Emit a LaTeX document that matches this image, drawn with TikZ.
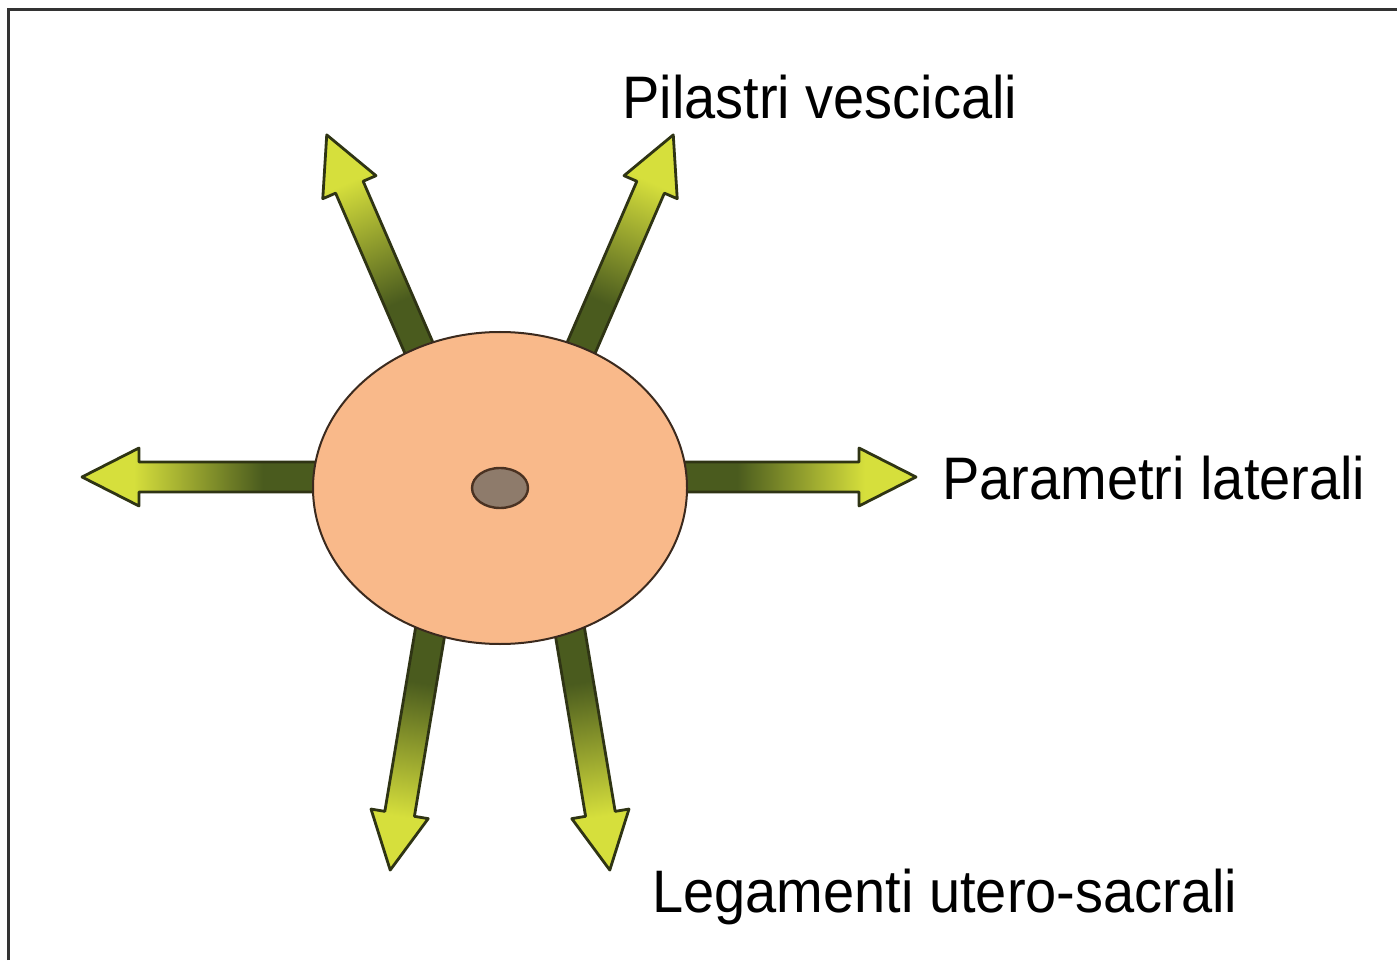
\documentclass[tikz,border=0pt]{standalone}
\usepackage{fontspec}
\setmainfont{Liberation Sans}
\usetikzlibrary{shapes.geometric}
\definecolor{adark}{HTML}{4A5B1E}
\definecolor{alight}{HTML}{D6DF3C}
\definecolor{aline}{HTML}{2F3414}
\definecolor{bodyfill}{HTML}{F9B98A}
\definecolor{bodyline}{HTML}{3B2A1E}
\definecolor{corefill}{HTML}{8E7B6B}
\definecolor{coreline}{HTML}{4A3222}
\definecolor{framecol}{HTML}{333333}
\pgfdeclarehorizontalshading{arrowshade}{100bp}{color(0bp)=(adark); color(25bp)=(adark); color(40bp)=(adark); color(65bp)=(alight); color(75bp)=(alight); color(100bp)=(alight)}
\tikzset{
  arrowbody/.style={shading=arrowshade, draw=aline, line width=1.4pt, line join=round},
  label/.style={inner sep=0pt, font=\fontsize{30}{36}\selectfont, text=black},
  frameline/.style={draw=framecol, line width=1.5pt}
}
% #1 base x, #2 base y, #3 angle, #4 length
\newcommand{\fatarrow}[4]{%
  \begin{scope}[transform canvas={shift={(#1,#2)},rotate=#3}]
    \path[arrowbody] (0,-15) -- ({#4-57},-15) -- ({#4-57},-29) -- (#4,0) -- ({#4-57},29) -- ({#4-57},15) -- (0,15) -- cycle;
  \end{scope}}
\begin{document}
\begin{tikzpicture}[x=0.5pt,y=0.5pt]
  \useasboundingbox (0,0) rectangle (1397,960);
  \fill[white] (0,0) rectangle (1397,960);
  % frame
  \coordinate (f1) at (8,0);
  \coordinate (f2) at (8,950);
  \coordinate (f3) at (1397,950);
  \draw[frameline] (f1) -- (f2) -- (f3);
  % arrows
  \fatarrow{340}{483}{180}{258}
  \fatarrow{660}{483}{0}{256}
  \fatarrow{430}{586.5}{113.4}{260}
  \fatarrow{570}{586.5}{66.6}{260}
  \fatarrow{435}{357.6}{260.5}{271.4}
  \fatarrow{565}{357.6}{-80.5}{271.4}
  % body
  \node[ellipse, draw=bodyline, fill=bodyfill, line width=1pt, minimum width=187pt, minimum height=156pt, inner sep=0pt] (body) at (500,472) {};
  \node[ellipse, draw=coreline, fill=corefill, line width=1.2pt, minimum width=28pt, minimum height=20pt, inner sep=0pt] (core) at (body.center) {};
  % labels
  \node[label, anchor=base west] (pil) at (622,841) {\scalebox{0.933}[1]{Pilastri vescicali}};
  \node[label, anchor=base west] (par) at (942,461) {\scalebox{0.933}[1]{Parametri laterali}};
  \node[label, anchor=base west] (leg) at (652,48) {\scalebox{0.933}[1]{Legamenti utero-sacrali}};
\end{tikzpicture}
\end{document}
